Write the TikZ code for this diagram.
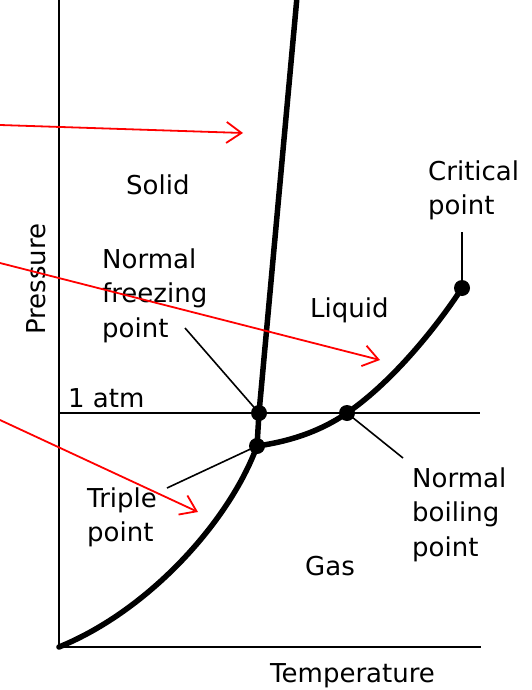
\documentclass[tikz,border=0pt]{standalone}
\usepackage{fontspec}
\setmainfont{DejaVu Sans}
\usetikzlibrary{arrows.meta}
\begin{document}
\begin{tikzpicture}[x=1pt,y=-1pt,
  lbl/.style={font=\fontsize{26}{34.5}\selectfont, inner sep=0pt, align=left, anchor=base west},
  dot/.style={circle, fill=black, minimum size=16pt, inner sep=0pt},
  axisline/.style={line width=2.4pt, line cap=rect},
  curve/.style={line width=5.5pt, line cap=round, line join=round},
  leader/.style={line width=1.6pt},
  redarrow/.style={red, line width=1.8pt, -{Straight Barb[length=15pt,width=21pt,line width=1.8pt]}}]
\useasboundingbox (0,0) rectangle (531,690);
% axes and 1 atm
\coordinate (top) at (59,0);
\coordinate (origin) at (59,647);
\coordinate (xend) at (480,647);
\coordinate (atmL) at (59,413);
\coordinate (atmR) at (480,413);
\draw[axisline] (top) -- (origin) -- (xend);
\draw[line width=1.8pt] (atmL) -- (atmR);
% points
\node[dot] (tp) at (257,446) {};
\node[dot] (nfp) at (259,413) {};
\node[dot] (nbp) at (347,413) {};
\node[dot] (cp) at (462,288) {};
\coordinate (slTop) at (297,-3);
% curves
\draw[curve] (origin) .. controls (150,610) and (230,520) .. (tp.center);
\draw[curve] (tp.center) -- (nfp.center) -- (slTop);
\draw[curve] (tp.center) .. controls (300,440) and (328,426) .. (nbp.center)
  .. controls (395,380) and (440,322) .. (cp.center);
% labels (base = baseline of last line)
\node[lbl] (solid) at (126,194) {Solid};
\node[lbl] (crit) at (428,214.5) {Critical\\point};
\node[lbl] (freeze) at (102,337) {Normal\\freezing\\point};
\node[lbl] (liquid) at (310,317) {Liquid};
\node[lbl] (atm) at (68,407) {1 atm};
\node[lbl] (triple) at (87,541.5) {Triple\\point};
\node[lbl] (boil) at (412,556) {Normal\\boiling\\point};
\node[lbl] (gas) at (305,575) {Gas};
\node[lbl] (temp) at (270,682) {Temperature};
\node[lbl, rotate=90] (pres) at (45,335) {Pressure};
% leaders
\coordinate (critL) at (462,232);
\coordinate (freezeL) at (185,328);
\coordinate (tripleL) at (167,488);
\coordinate (boilL) at (403,458);
\draw[leader] (critL) -- (cp.center);
\draw[leader] (freezeL) -- (nfp.center);
\draw[leader] (tripleL) -- (tp.center);
\draw[leader] (nbp.center) -- (boilL);
% red arrows
\coordinate (r1s) at (0,125);
\coordinate (r1e) at (243,133);
\coordinate (r2s) at (0,263);
\coordinate (r2e) at (380,360);
\coordinate (r3s) at (0,420);
\coordinate (r3e) at (198,512);
\draw[redarrow] (r1s) -- (r1e);
\draw[redarrow] (r2s) -- (r2e);
\draw[redarrow] (r3s) -- (r3e);
\end{tikzpicture}
\end{document}
